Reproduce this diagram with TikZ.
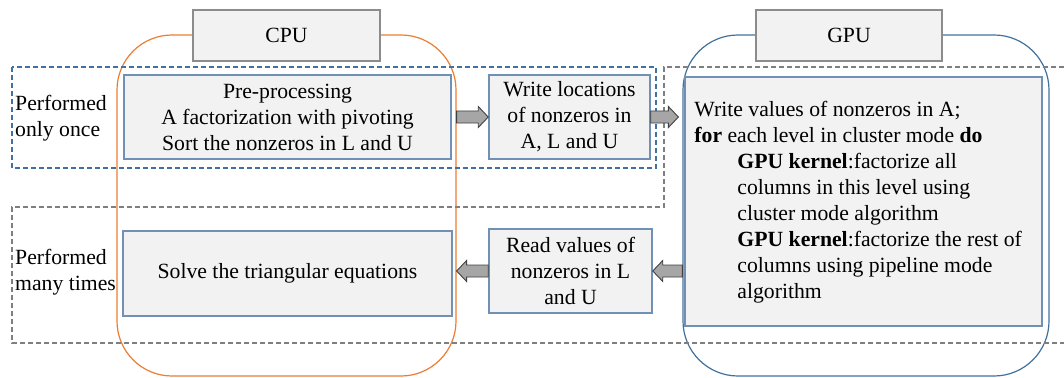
\documentclass[tikz,border=0pt]{standalone}
\usepackage{fontspec}
\setmainfont{Liberation Serif}
\usetikzlibrary{calc}

\definecolor{cpuorange}{HTML}{ED7D31}
\definecolor{gpublue}{HTML}{41719C}
\definecolor{boxedge}{HTML}{7090B5}
\definecolor{boxfill}{HTML}{F2F2F2}
\definecolor{taggray}{HTML}{8C8C8C}
\definecolor{zoneblue}{HTML}{41719C}
\definecolor{zonegray}{HTML}{7F7F7F}
\definecolor{arrowfill}{HTML}{A6A6A6}
\definecolor{arrowedge}{HTML}{404040}

\tikzset{
  txt/.style={font=\fontsize{21.7pt}{26pt}\selectfont},
  frame/.style={draw, line width=1.2pt, rounded corners=55pt, inner sep=0pt},
  tagbox/.style={draw=taggray, fill=boxfill, line width=1.5pt, inner sep=0pt, txt},
  stepbox/.style={draw=boxedge, fill=boxfill, line width=1.5pt, inner sep=0pt, align=center, txt},
  fatarrowstyle/.style={draw=arrowedge, fill=arrowfill, line width=0.9pt, line join=miter},
  zone/.style={dash pattern=on 5pt off 3pt, line width=1.1pt},
}

% block arrow from #1 to #2 (horizontal, at the height of #1)
\newcommand{\fatarrow}[2]{%
  \draw[fatarrowstyle] let \p1=(#1), \p2=(#2), \p3=($(#2)!10pt!(#1)$) in
    (\x1,\y1+6pt) -- (\x3,\y1+6pt) -- (\x3,\y1+10.5pt) -- (\x2,\y1)
    -- (\x3,\y1-10.5pt) -- (\x3,\y1-6pt) -- (\x1,\y1-6pt) -- cycle;}

\begin{document}
\begin{tikzpicture}[x=1pt,y=-1pt]
\useasboundingbox (0,0) rectangle (1064,377);

% processor frames
\node[frame, draw=cpuorange, minimum width=339pt, minimum height=341pt] (cpuframe) at (286.5,205.5) {};
\node[frame, draw=gpublue, minimum width=366pt, minimum height=341pt] (gpuframe) at (866,205.5) {};

% execution zones
\draw[zone, draw=zoneblue] (12,67) rectangle (656,168);
\draw[zone, draw=zonegray] (1064,67) -- (664,67) -- (664,207) -- (12,207) -- (12,343) -- (1064,343);

% zone labels
\node[txt, anchor=west, align=left, inner sep=0pt] (once) at (15,118) {Performed\\only once};
\node[txt, anchor=west, align=left, inner sep=0pt] (many) at (15,272) {Performed\\many times};

% processor tags
\node[tagbox, minimum width=187pt, minimum height=51pt] (cputag) at (286.5,35.5) {CPU};
\node[tagbox, minimum width=186pt, minimum height=51pt] (gputag) at (849,35.5) {GPU};

% steps
\node[stepbox, minimum width=327pt, minimum height=84pt] (pre) at (287.5,117)
  {Pre-processing\\A factorization with pivoting\\Sort the nonzeros in L and U};
\node[stepbox, minimum width=161pt, minimum height=84pt] (wloc) at (569.5,117)
  {Write locations\\of nonzeros in\\A, L and U};
\node[stepbox, minimum width=357pt, minimum height=249pt] (kern) at (863.5,201.5) {};
\node[txt, anchor=west, align=left, inner sep=0pt] (kerntext) at ($(kern.west)+(10,1)$)
  {Write values of nonzeros in A;\\
   \textbf{for} each level in cluster mode \textbf{do}\\
   \hspace*{43pt}\textbf{GPU kernel}:factorize all\\
   \hspace*{43pt}columns in this level using\\
   \hspace*{43pt}cluster mode algorithm\\
   \hspace*{43pt}\textbf{GPU kernel}:factorize the rest of\\
   \hspace*{43pt}columns using pipeline mode\\
   \hspace*{43pt}algorithm};
\node[stepbox, minimum width=329pt, minimum height=85pt] (solve) at (287.5,273.5)
  {Solve the triangular equations};
\node[stepbox, minimum width=163pt, minimum height=84pt] (read) at (570.5,271)
  {Read values of\\nonzeros in L\\and U};

% data transfers
\coordinate (gpuin) at ($(gpuframe.west |- wloc.east)+(-4,0)$);
\fatarrow{cpuframe.east |- pre.east}{wloc.west}
\fatarrow{wloc.east}{gpuin}
\fatarrow{gpuframe.west |- read.east}{read.east}
\fatarrow{read.west}{cpuframe.east |- read.west}
\end{tikzpicture}
\end{document}
